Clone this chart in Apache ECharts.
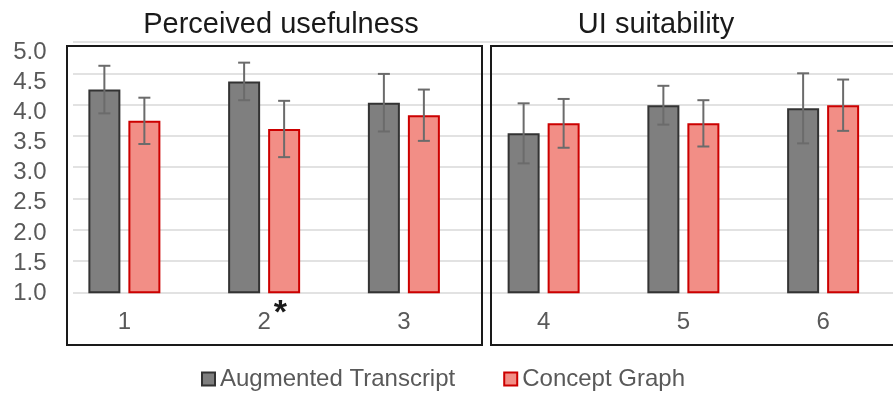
<!DOCTYPE html>
<html><head><meta charset="utf-8">
<script src="https://cdn.jsdelivr.net/npm/echarts@6/dist/echarts.min.js"></script>
<style>html,body{margin:0;padding:0;background:#fff}#c{width:893px;height:396px}</style>
</head><body><div id="c"></div>
<script>
// ---- data ----
const categories = ['1', '2', '3', '4', '5', '6'];
const seriesNames = ['Augmented Transcript', 'Concept Graph'];
const augmentedMean = [4.24, 4.37, 4.03, 3.54, 3.99, 3.94];
const augmentedErr  = [0.38, 0.30, 0.46, 0.48, 0.31, 0.56];
const conceptMean   = [3.74, 3.61, 3.83, 3.70, 3.70, 3.99];
const conceptErr    = [0.37, 0.45, 0.41, 0.39, 0.37, 0.41];
const yMin = 1.0, yMax = 5.0, yStep = 0.5;
const panelTitles = ['Perceived usefulness', 'UI suitability'];
const significant = ['2'];

// ---- style ----
const BAR_W = 32, BAR_GAP = 0.25;
const FONT = '"Liberation Sans", Arial, sans-serif';
const GREY_TXT = '#595959';

const chart = echarts.init(document.getElementById('c'), null, {renderer: 'canvas'});

function errSeries(means, errs, side) {
  return {
    type: 'custom', xAxisIndex: 0, yAxisIndex: 0, z: 5, silent: true,
    data: means.map((m, i) => [i, m, errs[i]]),
    renderItem(params, api) {
      const i = api.value(0), m = api.value(1), e = api.value(2);
      const off = side * BAR_W * (1 + BAR_GAP) / 2;
      const top = api.coord([i, m + e]);
      const bot = api.coord([i, m - e]);
      const x = top[0] + off, cap = 6;
      const st = {stroke: '#6b6b6b', lineWidth: 2};
      return {type: 'group', children: [
        {type: 'line', shape: {x1: x, y1: top[1], x2: x, y2: bot[1]}, style: st},
        {type: 'line', shape: {x1: x - cap, y1: top[1], x2: x + cap, y2: top[1]}, style: st},
        {type: 'line', shape: {x1: x - cap, y1: bot[1], x2: x + cap, y2: bot[1]}, style: st}
      ]};
    }
  };
}

const starStyle = {fontSize: 34, lineHeight: 34, fontWeight: 'bold', fontFamily: FONT, padding: [0, 0, 18, 3]};

const option = {
  backgroundColor: '#fff',
  animation: false,
  textStyle: {fontFamily: FONT},
  grid: [
    {left: 54.5, right: 0, top: 42, bottom: 103.7},
    {left: 73, right: 0, top: 42, bottom: 103.7},
    {left: 54.5, right: 0, top: 52, bottom: 102.7}
  ],
  xAxis: [
    {
      type: 'category', gridIndex: 0, data: categories,
      axisLine: {show: false}, axisTick: {show: false},
      axisLabel: {
        color: GREY_TXT, fontSize: 24, lineHeight: 24, margin: 13.2, fontFamily: FONT,
        formatter: v => '{h|*}' + v + (significant.includes(v) ? '{s|*}' : '{h|*}'),
        rich: {
          h: Object.assign({color: 'rgba(0,0,0,0)'}, starStyle),
          s: Object.assign({color: '#1a1a1a'}, starStyle)
        }
      }
    },
    {type: 'category', gridIndex: 1, data: categories, show: false},
    {type: 'category', gridIndex: 2, data: categories, show: false}
  ],
  yAxis: [
    {
      type: 'value', gridIndex: 0, min: yMin, max: yMax, interval: yStep,
      axisLine: {show: false}, axisTick: {show: false}, splitLine: {show: false},
      axisLabel: {show: false}
    },
    {
      type: 'value', gridIndex: 1, min: yMin, max: yMax, interval: yStep,
      axisLine: {show: false}, axisTick: {show: false}, axisLabel: {show: false},
      splitLine: {show: true, lineStyle: {color: '#d9d9d9', width: 1.5}}
    },
    {
      type: 'value', gridIndex: 2, min: yMin, max: yMax, interval: yStep,
      axisLine: {show: false}, axisTick: {show: false}, splitLine: {show: false},
      axisLabel: {color: GREY_TXT, fontSize: 24, margin: 8, fontFamily: FONT,
        formatter: v => v.toFixed(1)}
    }
  ],
  legend: {
    data: seriesNames, left: 201, top: 367, padding: 0,
    itemWidth: 13, itemHeight: 13, itemGap: 48, icon: 'rect',
    textStyle: {color: GREY_TXT, fontSize: 24, fontFamily: FONT}
  },
  series: [
    {
      name: seriesNames[0], type: 'bar', xAxisIndex: 0, yAxisIndex: 0,
      data: augmentedMean, barWidth: BAR_W, barGap: (BAR_GAP * 100) + '%',
      itemStyle: {color: '#7f7f7f', borderColor: '#333333', borderWidth: 2}
    },
    {
      name: seriesNames[1], type: 'bar', xAxisIndex: 0, yAxisIndex: 0,
      data: conceptMean, barWidth: BAR_W, barGap: (BAR_GAP * 100) + '%',
      itemStyle: {color: '#f28e86', borderColor: '#cc0000', borderWidth: 2}
    },
    errSeries(augmentedMean, augmentedErr, -1),
    errSeries(conceptMean, conceptErr, 1)
  ],
  graphic: [
    {type: 'rect', z: 100, silent: true, shape: {x: 67, y: 46, width: 415, height: 299},
      style: {fill: 'none', stroke: '#1a1a1a', lineWidth: 2}},
    {type: 'rect', z: 100, silent: true, shape: {x: 491, y: 46, width: 420, height: 299},
      style: {fill: 'none', stroke: '#1a1a1a', lineWidth: 2}},
    {type: 'text', z: 100, x: 281, y: 25, style: {text: panelTitles[0], textAlign: 'center',
      textVerticalAlign: 'middle', fill: '#1a1a1a', font: '29px ' + FONT}},
    {type: 'text', z: 100, x: 656, y: 25, style: {text: panelTitles[1], textAlign: 'center',
      textVerticalAlign: 'middle', fill: '#1a1a1a', font: '29px ' + FONT}}
  ]
};
chart.setOption(option);
</script>
</body></html>
